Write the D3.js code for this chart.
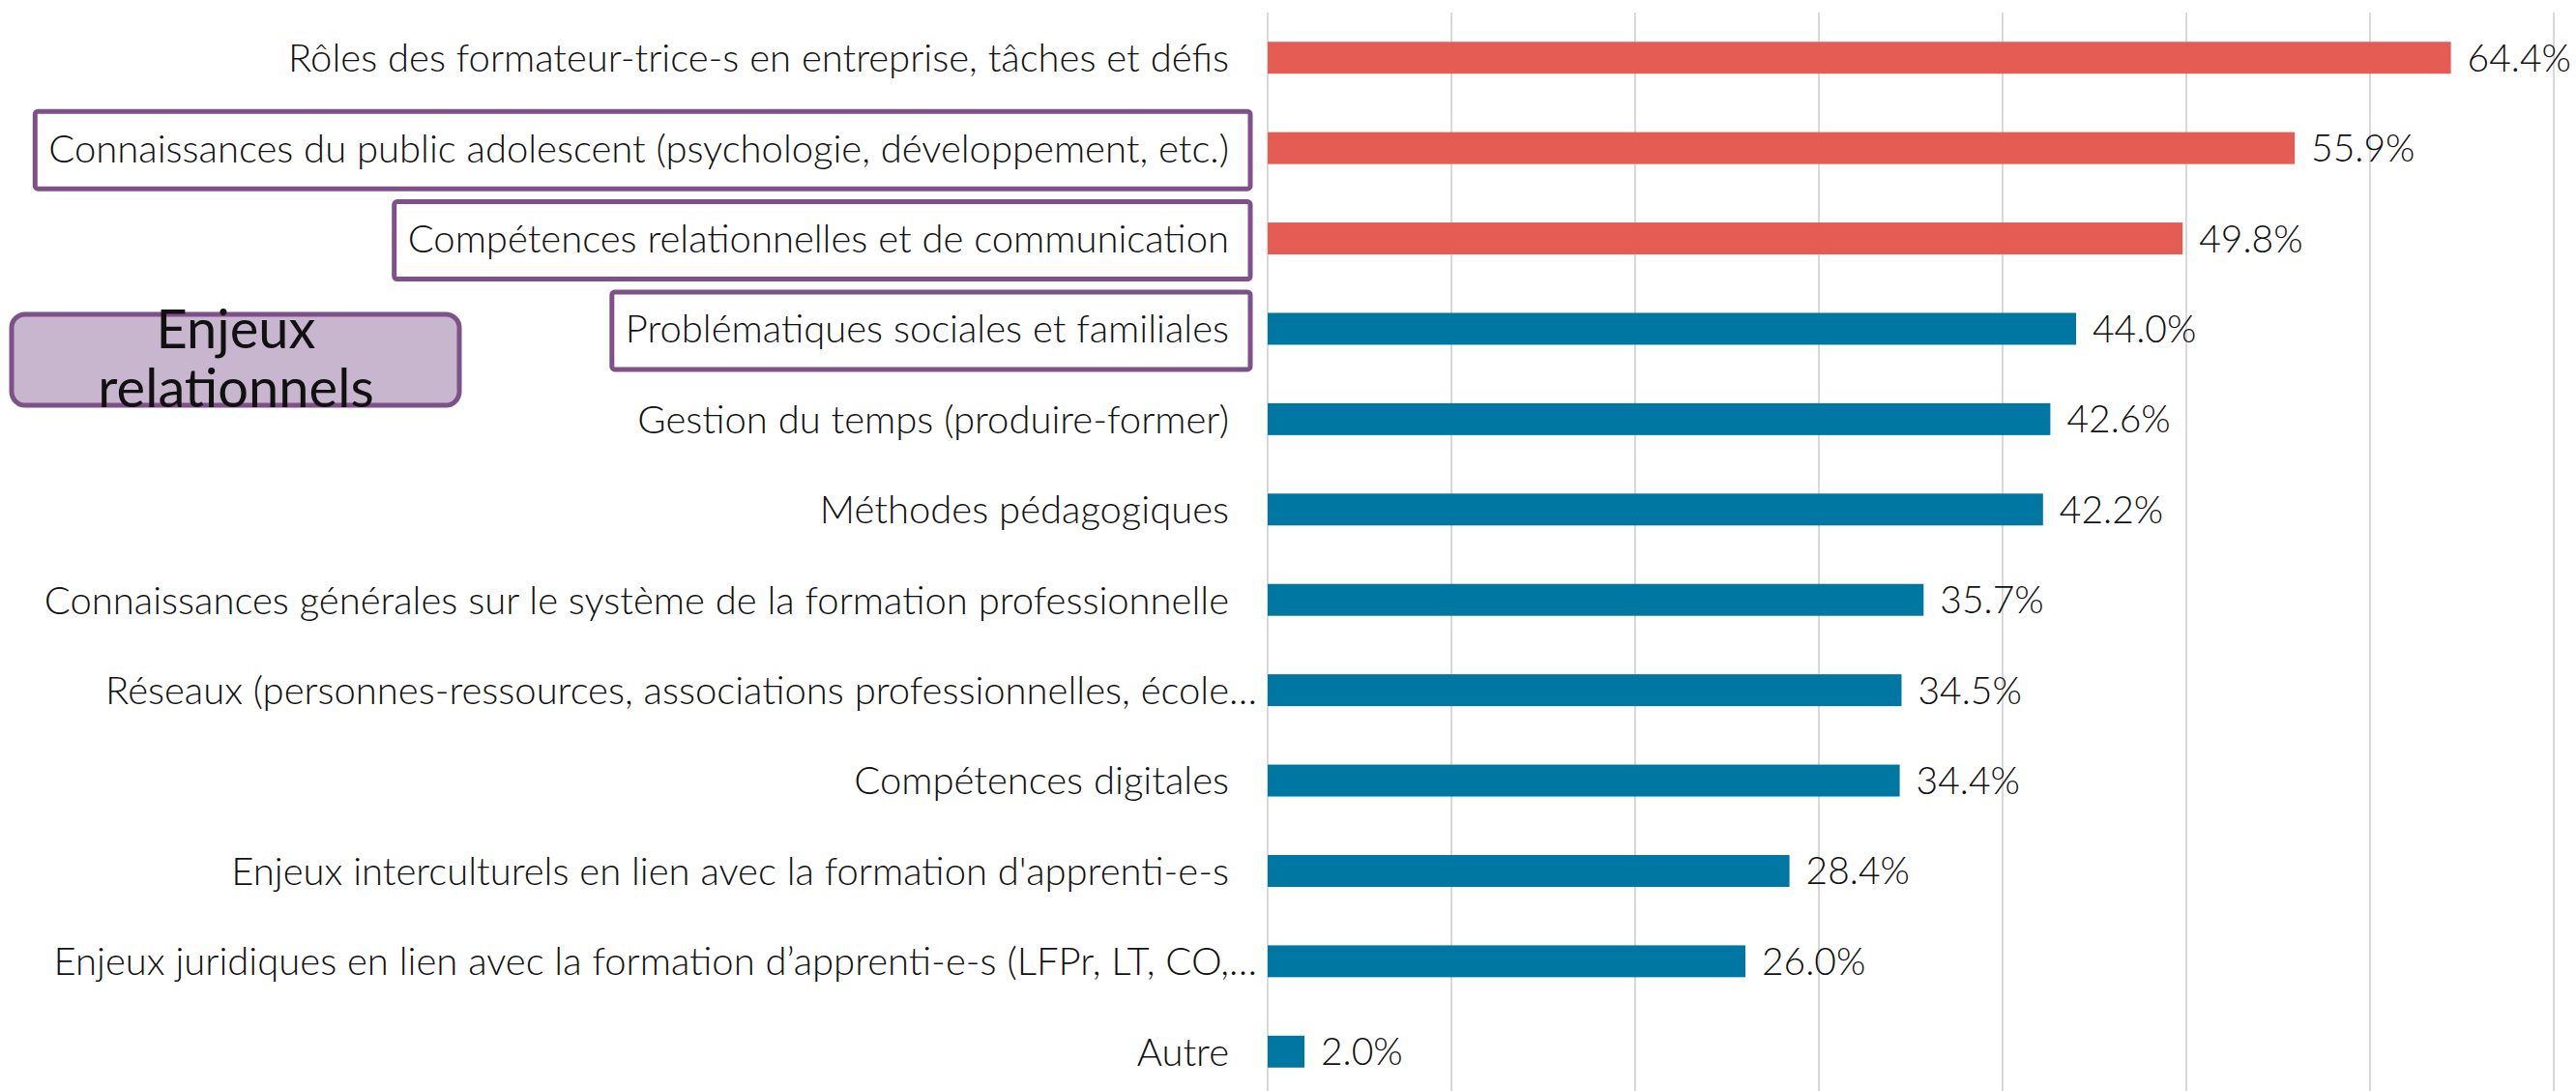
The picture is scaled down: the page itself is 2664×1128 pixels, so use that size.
<!DOCTYPE html>
<html>
<head>
<meta charset="utf-8">
<script src="https://cdn.jsdelivr.net/npm/d3@7"></script>
<style>
  body { margin: 0; background: #fff; }
  svg { display: block; }
</style>
</head>
<body>
<script>
// data
let categories = [
  'Rôles des formateur-trice-s en entreprise, tâches et défis',
  'Connaissances du public adolescent (psychologie, développement, etc.)',
  'Compétences relationnelles et de communication',
  'Problématiques sociales et familiales',
  'Gestion du temps (produire-former)',
  'Méthodes pédagogiques',
  'Connaissances générales sur le système de la formation professionnelle',
  'Réseaux (personnes-ressources, associations professionnelles, école…',
  'Compétences digitales',
  "Enjeux interculturels en lien avec la formation d'apprenti-e-s",
  'Enjeux juridiques en lien avec la formation d’apprenti-e-s (LFPr, LT, CO,…',
  'Autre'
];
let values = [64.4, 55.9, 49.8, 44.0, 42.6, 42.2, 35.7, 34.5, 34.4, 28.4, 26.0, 2.0];
// top 3 highlighted in red
let groups = ['top', 'top', 'top', 'autre', 'autre', 'autre', 'autre', 'autre', 'autre', 'autre', 'autre', 'autre'];
// labels framed in purple
let boxed = [
  'Connaissances du public adolescent (psychologie, développement, etc.)',
  'Compétences relationnelles et de communication',
  'Problématiques sociales et familiales'
];
let calloutLines = ['Enjeux', 'relationnels'];
let xTicks = [0, 10, 20, 30, 40, 50, 60, 70];

let width = 2664;
let height = 1128;
let axisX = 1311;

let svg = d3.select('body')
  .append('svg')
  .attr('width', width)
  .attr('height', height);

let x = d3.scaleLinear().domain([0, 70]).range([axisX, 2641]);
let y = d3.scaleBand().domain(categories).range([13, 1134]).paddingInner(0.647).paddingOuter(0.3235);

let color = d3.scaleOrdinal().domain(['top', 'autre']).range(['#e55c55', '#0076a3']);

let font = 'Lato, "Open Sans", sans-serif';
let fontSize = '40px';

// grille verticale
svg.append('g')
  .selectAll('line')
  .data(xTicks)
  .enter()
  .append('line')
  .attr('x1', d => x(d))
  .attr('x2', d => x(d))
  .attr('y1', 13)
  .attr('y2', height)
  .attr('stroke', '#d9d9d9')
  .attr('stroke-width', 2);

// barres
svg.append('g')
  .selectAll('rect')
  .data(values)
  .enter()
  .append('rect')
  .attr('x', x(0))
  .attr('y', (d, i) => y(categories[i]))
  .attr('width', d => x(d) - x(0))
  .attr('height', y.bandwidth())
  .attr('fill', (d, i) => color(groups[i]));

// valeurs
svg.append('g')
  .selectAll('text')
  .data(values)
  .enter()
  .append('text')
  .attr('x', d => x(d) + 17)
  .attr('y', (d, i) => y(categories[i]) + y.bandwidth() / 2)
  .attr('dy', '0.36em')
  .attr('font-family', font)
  .attr('font-weight', 300)
  .attr('font-size', '39px')
  .attr('fill', '#111')
  .text(d => d.toFixed(1) + '%');

// cadres violets (derrière les textes)
let boxLayer = svg.append('g');

// étiquettes des catégories
let labelX = axisX - 40;
let labels = svg.append('g')
  .selectAll('g')
  .data(categories)
  .enter()
  .append('g');

labels.append('text')
  .attr('class', 'cat')
  .attr('x', labelX)
  .attr('y', d => y(d) + y.bandwidth() / 2)
  .attr('dy', '0.36em')
  .attr('text-anchor', 'end')
  .attr('font-family', font)
  .attr('font-weight', 300)
  .attr('font-size', fontSize)
  .attr('fill', '#111')
  .text(d => d.replace('…', ''));

// points de suspension qui dépassent
labels.filter(d => d.endsWith('…'))
  .append('text')
  .attr('x', labelX)
  .attr('y', d => y(d) + y.bandwidth() / 2)
  .attr('dy', '0.36em')
  .attr('font-family', font)
  .attr('font-weight', 300)
  .attr('font-size', fontSize)
  .attr('fill', '#111')
  .text('…');

labels.filter(d => boxed.includes(d)).each(function(d) {
  let bb = d3.select(this).select('text.cat').node().getBBox();
  let cy = y(d) + y.bandwidth() / 2;
  boxLayer.append('rect')
    .attr('x', bb.x - 14)
    .attr('y', cy - 38)
    .attr('width', axisX - 18 - (bb.x - 14))
    .attr('height', 80)
    .attr('rx', 3)
    .attr('fill', '#fff')
    .attr('stroke', '#7f5189')
    .attr('stroke-width', 5);
});

// encadré "Enjeux relationnels"
let callout = svg.append('g');
callout.append('rect')
  .attr('x', 12)
  .attr('y', 325)
  .attr('width', 463)
  .attr('height', 94)
  .attr('rx', 14)
  .attr('fill', '#c8b6cf')
  .attr('stroke', '#7f5189')
  .attr('stroke-width', 5);

callout.selectAll('text')
  .data(calloutLines)
  .enter()
  .append('text')
  .attr('x', 244)
  .attr('y', (d, i) => 360 + i * 61)
  .attr('text-anchor', 'middle')
  .attr('font-family', font)
  .attr('font-size', '56px')
  .attr('fill', '#111')
  .text(d => d);
</script>
</body>
</html>
